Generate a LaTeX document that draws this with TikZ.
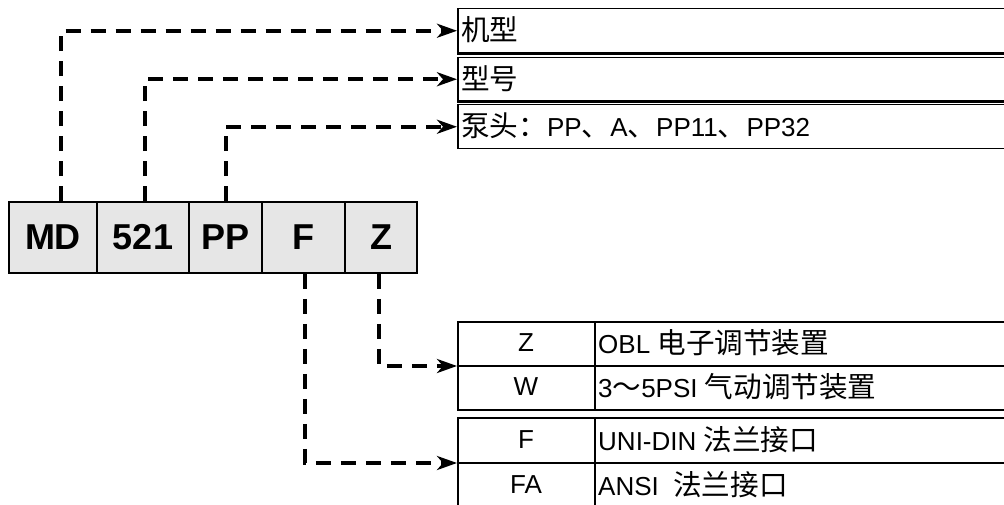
\documentclass[tikz,border=0pt]{standalone}
\usepackage{fontspec}
\setmainfont{Liberation Sans}
\newfontfamily\cjk[Scale=1.1]{Noto Sans CJK SC}
\usetikzlibrary{arrows.meta,calc}
\definecolor{codefill}{RGB}{230,230,230}
\newcommand{\C}[1]{{\cjk #1}}
\begin{document}
\begin{tikzpicture}[x=1pt,y=-1pt,
  codebox/.style={draw=black,line width=1.5pt,fill=codefill,inner sep=0pt,
    minimum height=71pt,font=\fontsize{36}{40}\selectfont\bfseries},
  infobox/.style={draw=black,line width=1.5pt,inner sep=0pt,anchor=north west},
  lbl/.style={inner sep=0pt,anchor=west,font=\fontsize{26}{30}\selectfont},
  clbl/.style={inner sep=0pt,font=\fontsize{26}{30}\selectfont},
  conn/.style={line width=4pt,dash pattern=on 15pt off 10pt,
    -{Stealth[length=20pt,width=14pt,inset=6pt]}}]
\useasboundingbox (0,0) rectangle (1004,505);
\clip (0,0) rectangle (1004,505);
\fill[white] (0,0) rectangle (1004,505);
% code boxes
\node[codebox,minimum width=88pt] (md) at (53,237.5) {MD};
\node[codebox,minimum width=92pt] (n521) at (143,237.5) {521};
\node[codebox,minimum width=73pt] (pp) at (225.5,237.5) {PP};
\node[codebox,minimum width=83pt] (f) at (303.5,237.5) {F};
\node[codebox,minimum width=72pt] (z) at (381,237.5) {Z};
% top info boxes
\node[infobox,minimum width=560pt,minimum height=44pt] (b1) at (457,8) {};
\node[infobox,minimum width=560pt,minimum height=43pt] (b2) at (457,57) {};
\node[infobox,minimum width=560pt,minimum height=44pt] (b3) at (457,104) {};
\draw[line width=2.5pt] (b1.south west) -- (b1.south east);
\draw[line width=2.5pt] (b2.south west) -- (b2.south east);
\node[lbl] (t1) at (461,30) {\C{机型}};
\node[lbl] (t2) at (461,78.5) {\C{型号}};
\node[lbl] (t3) at (461,126) {\C{泵头：}PP\C{、}A\C{、}PP11\C{、}PP32};
% bottom tables
\node[infobox,line width=2pt,minimum width=560pt,minimum height=88pt] (ta) at (457,321) {};
\node[infobox,line width=2pt,minimum width=560pt,minimum height=100pt] (tb) at (457,417) {};
\coordinate (tam) at (ta.west);
\coordinate (tbm) at (457,463);
\draw[line width=2.5pt] (tam) -- (tam -| ta.east);
\draw[line width=2.5pt] (tbm) -- (tbm -| tb.east);
\draw[line width=2.5pt] (595,321) -- (595,409);
\draw[line width=2.5pt] (595,417) -- (595,520);
\node[clbl] (za) at (526,342.5) {Z};
\node[clbl] (wa) at (526,386.5) {W};
\node[clbl] (fa) at (526,440) {F};
\node[clbl] (faa) at (526,485) {FA};
\node[lbl] (zd) at (598,342.5) {OBL \C{电子调节装置}};
\node[lbl] (wd) at (598,386.5) {3\C{～}5PSI \C{气动调节装置}};
\node[lbl] (fd) at (598,440) {UNI-DIN \C{法兰接口}};
\node[lbl] (fad) at (598,485) {ANSI \ \C{法兰接口}};
% connectors
\draw[conn] ([xshift=8pt]md.north) |- (b1.west);
\draw[conn] ([xshift=2pt]n521.north) |- (b2.west);
\draw[conn] (pp.north) |- (b3.west);
\draw[conn] ([xshift=-2pt]z.south) |- (tam);
\draw[conn] ([xshift=1.5pt]f.south) |- (tbm);
\end{tikzpicture}
\end{document}
